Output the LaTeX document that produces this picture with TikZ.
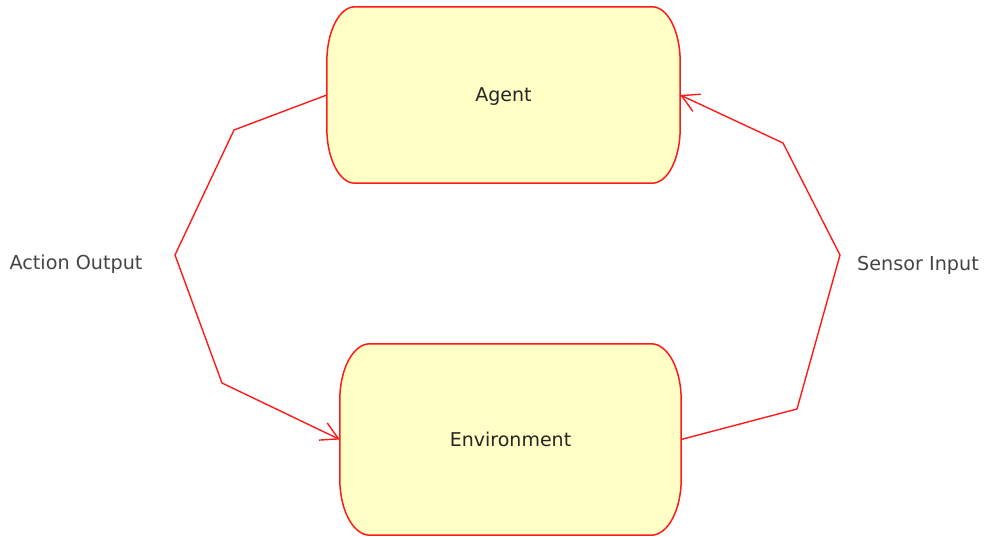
\documentclass[tikz,border=0pt]{standalone}
\usepackage{fontspec}
\setmainfont{DejaVu Sans}
\usetikzlibrary{arrows.meta,backgrounds}
\definecolor{boxfill}{HTML}{FFFFC6}
\definecolor{linered}{HTML}{FF1A1A}
\definecolor{labelgray}{HTML}{444444}
\tikzset{
  capsule/.style={minimum width=#1, inner sep=0pt, text depth=0pt, font=\fontsize{19}{22}\selectfont, text=black!85},
  capsuleline/.style={draw=linered, fill=boxfill, line width=1.5pt},
  conn/.style={draw=linered, line width=1.4pt, -{Straight Barb[length=17pt,width=19pt,line width=1.4pt]}},
  sidelabel/.style={font=\fontsize{19.2}{22}\selectfont, text=labelgray, inner sep=0pt}
}
% outline of a box with elliptical corners around a named node
\newcommand{\capsuleoutline}[3]{%
  \begin{scope}[on background layer]
  \path[capsuleline]
    ([xshift=#2]#1.north west) -- ([xshift=-#2]#1.north east)
    arc[start angle=90,end angle=0,x radius=#2,y radius=#3]
    -- ([yshift=#3]#1.south east)
    arc[start angle=0,end angle=-90,x radius=#2,y radius=#3]
    -- ([xshift=#2]#1.south west)
    arc[start angle=270,end angle=180,x radius=#2,y radius=#3]
    -- ([yshift=-#3]#1.north west)
    arc[start angle=180,end angle=90,x radius=#2,y radius=#3]
    -- cycle;
  \end{scope}}
\begin{document}
\begin{tikzpicture}[x=1pt,y=-1pt]
  \useasboundingbox (0,0) rectangle (985,537);
  \node[capsule=353pt, minimum height=176pt] (agent) at (503.5,95) {Agent};
  \node[capsule=341pt, minimum height=191pt] (env) at (510.5,439.5) {Environment};
  \capsuleoutline{agent}{28pt}{55pt}
  \capsuleoutline{env}{30pt}{56pt}

  \node[sidelabel] (action) at (76,264) {Action Output};
  \node[sidelabel] (sensor) at (918,265) {Sensor Input};

  \coordinate (l1) at (234,130);
  \coordinate (l2) at (175,255);
  \coordinate (l3) at (222,383);
  \coordinate (r1) at (797,409);
  \coordinate (r2) at (840,255);
  \coordinate (r3) at (783,143);

  \draw[conn] (agent.west) -- (l1) -- (l2) -- (l3) -- (env.west);
  \draw[conn] (env.east) -- (r1) -- (r2) -- (r3) -- (agent.east);
\end{tikzpicture}
\end{document}
